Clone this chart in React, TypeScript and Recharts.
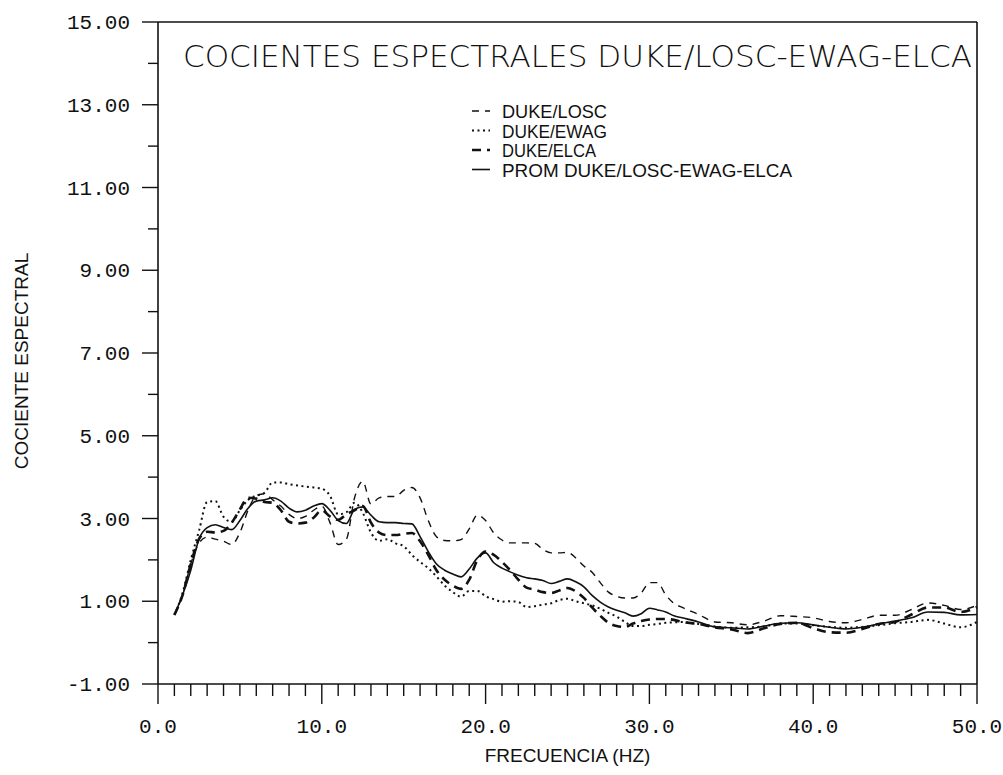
import React from "react";
import { LineChart, Line, XAxis, YAxis, ReferenceLine, Legend, Label } from "recharts";

// frequency (Hz) sampled from the plot
const FREQ = [
  1, 1.5, 2, 2.5, 3, 3.5, 4, 4.5, 5, 5.5,
  6, 6.5, 7, 7.5, 8, 8.5, 9, 9.5, 10, 10.5,
  11, 11.5, 12, 12.5, 13, 13.5, 14, 14.5, 15, 15.5,
  16, 16.5, 17, 17.5, 18, 18.5, 19, 19.5, 20, 20.5,
  21, 21.5, 22, 22.5, 23, 23.5, 24, 24.5, 25, 25.5,
  26, 26.5, 27, 27.5, 28, 28.5, 29, 29.5, 30, 30.5,
  31, 31.5, 32,
  33, 34, 35, 36, 37, 38, 39, 40, 41, 42,
  43, 44, 45, 46, 47, 48, 49, 50,
];

const LOSC = [
  0.67, 1.15, 1.9, 2.4, 2.55, 2.5, 2.45, 2.37, 2.66, 3.2,
  3.55, 3.6, 3.45, 3.3, 3.1, 3.0, 3.05, 3.2, 3.3, 2.9,
  2.37, 2.5, 3.5, 3.9, 3.35, 3.5, 3.53, 3.53, 3.68, 3.75,
  3.5, 2.95, 2.56, 2.47, 2.46, 2.49, 2.75, 3.08, 2.95, 2.65,
  2.48, 2.41, 2.41, 2.41, 2.4, 2.25, 2.17, 2.17, 2.18, 2.05,
  1.85, 1.7, 1.45, 1.22, 1.12, 1.08, 1.08, 1.2, 1.45, 1.45,
  1.15, 0.95, 0.85,
  0.68, 0.5, 0.48, 0.43, 0.52, 0.65, 0.63, 0.6, 0.51, 0.48,
  0.56, 0.66, 0.66, 0.8, 0.96, 0.9, 0.8, 0.9,
];

const EWAG = [
  0.67, 1.2, 2.0, 2.7, 3.4, 3.42, 3.04, 2.92, 3.2, 3.45,
  3.55, 3.62, 3.87, 3.87, 3.83, 3.8, 3.77, 3.75, 3.72, 3.55,
  3.1, 3.15, 3.38, 3.14, 2.66, 2.46, 2.5, 2.4, 2.33, 2.12,
  1.95, 1.8, 1.6, 1.38, 1.22, 1.11, 1.25, 1.25, 1.12, 1.05,
  0.99, 1.0, 0.98, 0.86, 0.88, 0.92, 0.95, 1.03, 1.06, 1.0,
  0.95, 0.9, 0.82, 0.72, 0.63, 0.5, 0.4, 0.4, 0.43, 0.45,
  0.48, 0.49, 0.5,
  0.45, 0.39, 0.36, 0.37, 0.39, 0.46, 0.46, 0.42, 0.38, 0.36,
  0.38, 0.42, 0.47, 0.5, 0.55, 0.46, 0.37, 0.5,
];

const ELCA = [
  0.67, 1.15, 1.9, 2.5, 2.68, 2.66, 2.7, 2.9, 3.22, 3.5,
  3.48, 3.4, 3.38, 3.2, 2.92, 2.88, 2.9, 3.02, 3.2, 3.05,
  2.97, 3.1, 3.2, 3.3, 2.9, 2.66, 2.6, 2.6, 2.63, 2.65,
  2.45, 2.12, 1.75, 1.52, 1.38, 1.3, 1.52, 2.0, 2.2, 2.12,
  1.95, 1.75, 1.52, 1.33, 1.28, 1.22, 1.2, 1.26, 1.32, 1.24,
  1.08, 0.85, 0.65, 0.48, 0.4, 0.38, 0.46, 0.52, 0.56, 0.57,
  0.57, 0.55, 0.5,
  0.45, 0.37, 0.32, 0.23, 0.35, 0.45, 0.48, 0.35, 0.25, 0.24,
  0.33, 0.45, 0.5, 0.68, 0.85, 0.85, 0.74, 0.86,
];

const PROM = [
  0.67, 1.15, 1.75, 2.5, 2.78, 2.85, 2.78, 2.73, 2.95, 3.25,
  3.42, 3.45, 3.5, 3.42, 3.25, 3.16, 3.2, 3.3, 3.36, 3.2,
  2.95, 2.88, 3.22, 3.28, 3.08, 2.92, 2.9, 2.9, 2.88, 2.87,
  2.56, 2.2, 1.9, 1.75, 1.66, 1.59, 1.78, 2.05, 2.17, 1.93,
  1.8, 1.71, 1.63, 1.57, 1.54, 1.5, 1.43, 1.48, 1.54, 1.47,
  1.35, 1.14, 0.98, 0.86, 0.78, 0.72, 0.64, 0.7, 0.83, 0.79,
  0.74, 0.65, 0.6,
  0.5, 0.38, 0.36, 0.33, 0.4, 0.47, 0.48, 0.43, 0.37, 0.33,
  0.37, 0.45, 0.52, 0.6, 0.74, 0.73, 0.67, 0.68,
];

const SERIES_NAMES = ["DUKE/LOSC", "DUKE/EWAG", "DUKE/ELCA", "PROM DUKE/LOSC-EWAG-ELCA"];
const SERIES_KEYS = ["losc", "ewag", "elca", "prom"];

const X_TICKS = [0, 1, 2, 3, 4, 5, 6, 7, 8, 9, 10, 11, 12, 13, 14, 15, 16, 17, 18, 19, 20,
  21, 22, 23, 24, 25, 26, 27, 28, 29, 30, 31, 32, 33, 34, 35, 36, 37, 38, 39, 40,
  41, 42, 43, 44, 45, 46, 47, 48, 49, 50];
const Y_TICKS = [-1, 0, 1, 2, 3, 4, 5, 6, 7, 8, 9, 10, 11, 12, 13, 14, 15];

const TITLE = "COCIENTES ESPECTRALES DUKE/LOSC-EWAG-ELCA";

const rows = FREQ.map((f, i) => ({
  f,
  losc: LOSC[i],
  ewag: EWAG[i],
  elca: ELCA[i],
  prom: PROM[i],
}));

// line looks per series
const styles: Record<string, { dash?: string; width: number }> = {
  losc: { dash: "7 6", width: 1.4 },
  ewag: { dash: "2 3.5", width: 2 },
  elca: { dash: "9 6", width: 2.6 },
  prom: { width: 1.6 },
};
// legend text widths, to mimic the plotter's stroke font
const legendWidths = [105, 105, 94, 290];

const INK = "#111";
const FONT = "'Liberation Sans', Arial, sans-serif";
const MONO = "'Liberation Mono', 'DejaVu Sans Mono', monospace";

function XTick(props: any) {
  const { x, y, payload } = props;
  const v = payload.value;
  const major = v % 10 === 0;
  return (
    <g>
      <line x1={x} y1={y} x2={x} y2={y + (major ? 20 : 12)} stroke={INK} strokeWidth={1.4} />
      {major && (
        <text x={x} y={y + 49} textAnchor="middle" fontFamily={MONO} fontSize={21} fill={INK}>
          {v.toFixed(1)}
        </text>
      )}
    </g>
  );
}

function YTick(props: any) {
  const { x, y, payload } = props;
  const v = payload.value;
  const major = Math.abs(v % 2) === 1;
  return (
    <g>
      <line x1={x} y1={y} x2={x - (major ? 16 : 10)} y2={y} stroke={INK} strokeWidth={1.4} />
      {major && (
        <text x={x - 28} y={y + 7} textAnchor="end" fontFamily={MONO} fontSize={21} fill={INK}>
          {v.toFixed(2)}
        </text>
      )}
    </g>
  );
}

function LegendBox() {
  return (
    <svg width={360} height={80}>
      {SERIES_KEYS.map((k, i) => {
        const s = styles[k];
        const cy = 9 + i * 19.5;
        return (
          <g key={k}>
            <line x1={10} x2={28} y1={cy} y2={cy} stroke={INK} strokeWidth={s.width}
              strokeDasharray={s.dash} />
            <text x={40} y={cy + 7} fontFamily={FONT} fontSize={19} fill={INK}
              textLength={legendWidths[i]} lengthAdjust="spacingAndGlyphs">
              {SERIES_NAMES[i]}
            </text>
          </g>
        );
      })}
    </svg>
  );
}

export default function App() {
  return (
    <div style={{ position: "absolute", left: 0, top: 0, width: 1003, height: 775, background: "#fff" }}>
      <LineChart width={1003} height={775} data={rows} margin={{ top: 22, right: 26, left: 0, bottom: 0 }}>
        <XAxis
          dataKey="f"
          type="number"
          domain={[0, 50]}
          ticks={X_TICKS}
          interval={0}
          tick={<XTick />}
          tickLine={false}
          tickSize={0}
          tickMargin={0}
          height={91}
          axisLine={{ stroke: INK, strokeWidth: 1.6 }}
        >
          <Label
            value="FRECUENCIA (HZ)"
            position="insideBottom"
            offset={13}
            style={{ fontFamily: FONT, fontSize: 19, fill: INK }}
          />
        </XAxis>
        <YAxis
          type="number"
          domain={[-1, 15]}
          ticks={Y_TICKS}
          interval={0}
          tick={<YTick />}
          tickLine={false}
          tickSize={0}
          tickMargin={0}
          width={158}
          allowDataOverflow
          axisLine={{ stroke: INK, strokeWidth: 1.6 }}
        >
          <Label
            content={(p: any) => {
              const vb = p.viewBox;
              const cx = vb.x + 21;
              const cy = vb.y + vb.height / 2 + 8;
              return (
                <text x={cx} y={cy} transform={`rotate(-90, ${cx}, ${cy})`} textAnchor="middle"
                  dominantBaseline="central" fontFamily={FONT} fontSize={19} fill={INK}>
                  COCIENTE ESPECTRAL
                </text>
              );
            }}
          />
        </YAxis>
        <ReferenceLine y={15} stroke={INK} strokeWidth={1.6} />
        <ReferenceLine x={50} stroke={INK} strokeWidth={1.6} />
        <Legend
          layout="horizontal"
          verticalAlign="middle"
          align="center"
          wrapperStyle={{ left: 462, top: 102, width: 360 }}
          content={() => <LegendBox />}
        />
        {SERIES_KEYS.map((k, i) => (
          <Line
            key={k}
            dataKey={k}
            name={SERIES_NAMES[i]}
            type="monotone"
            stroke={INK}
            strokeWidth={styles[k].width}
            strokeDasharray={styles[k].dash}
            dot={false}
            activeDot={false}
            isAnimationActive={false}
          />
        ))}
      </LineChart>
      <svg style={{ position: "absolute", left: 0, top: 0, pointerEvents: "none" }} width={1003} height={100}>
        <text x={183} y={67} textLength={789} lengthAdjust="spacingAndGlyphs"
          fontFamily="'DejaVu Sans', sans-serif" fontWeight={300} fontSize={31} fill={INK}>
          {TITLE}
        </text>
      </svg>
    </div>
  );
}
